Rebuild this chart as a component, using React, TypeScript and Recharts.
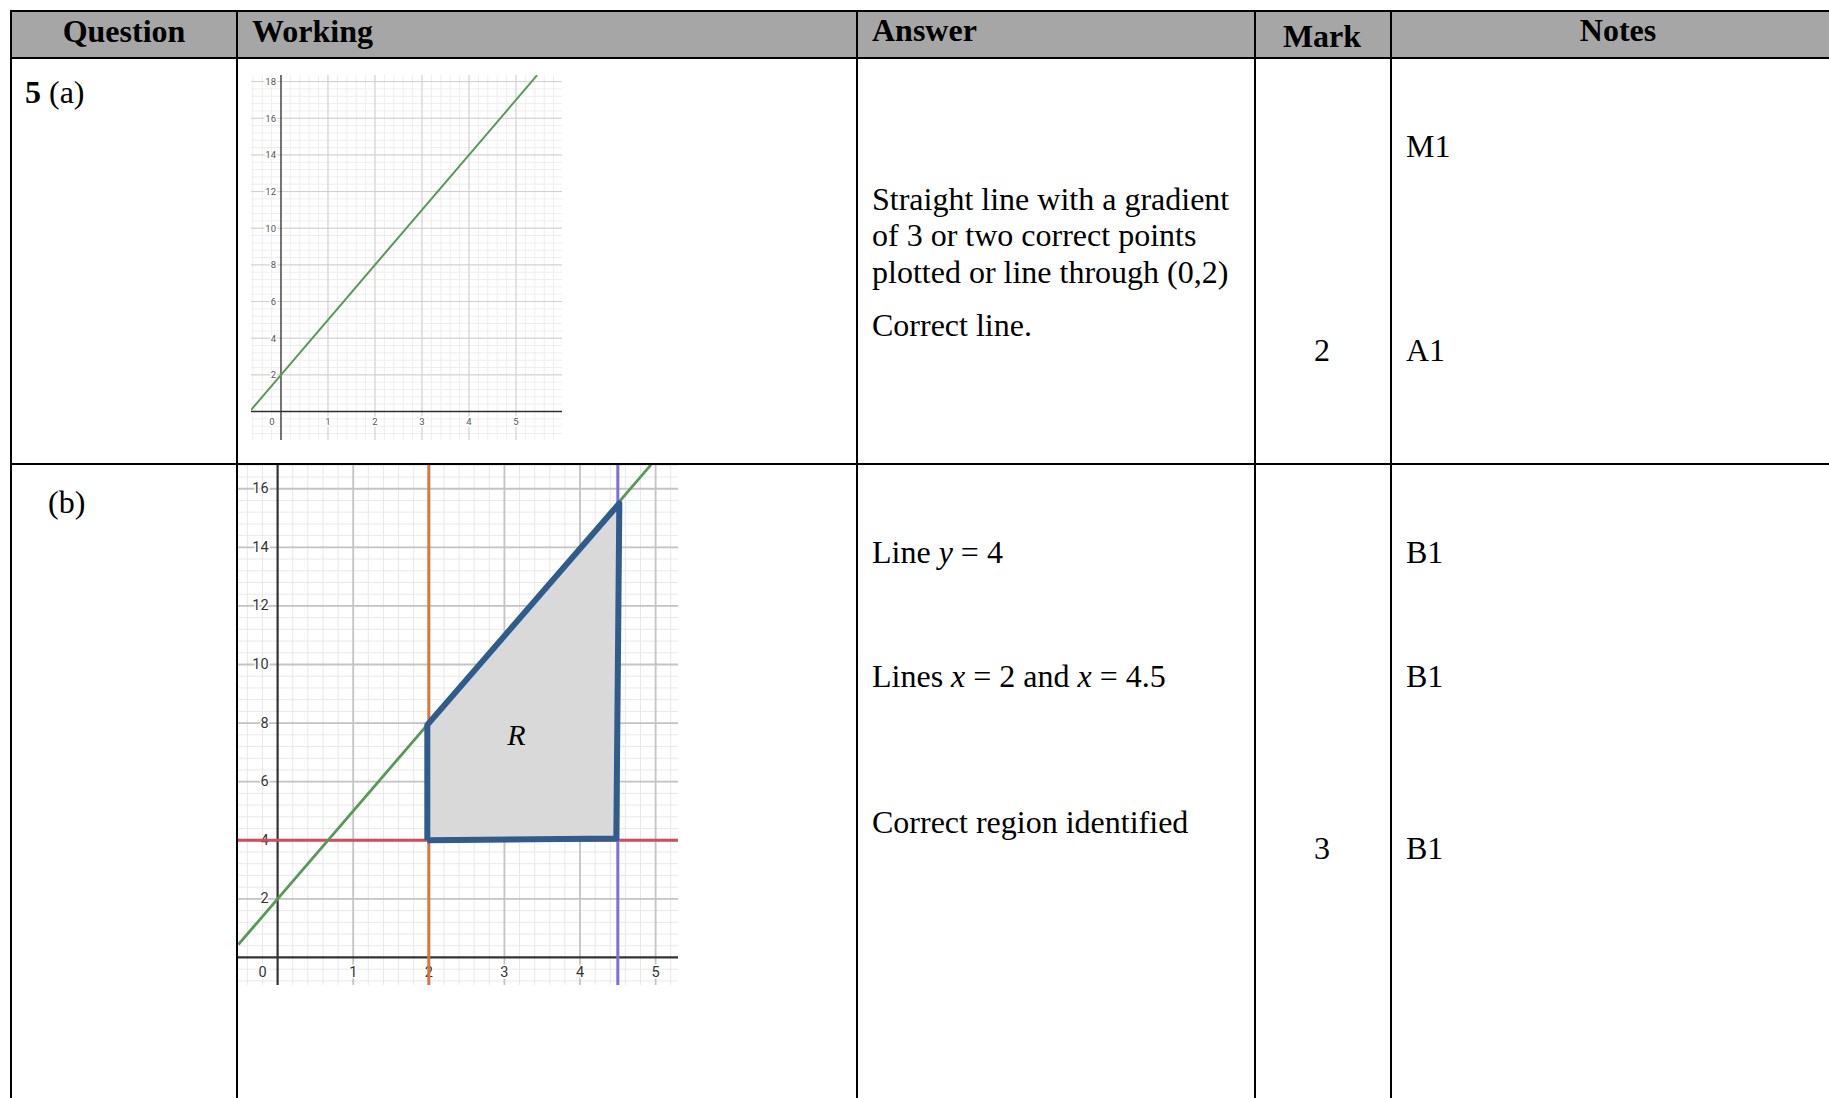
import React from 'react';
import { ComposedChart, Line, Area, XAxis, YAxis, ReferenceLine, ReferenceDot } from 'recharts';

// ---- part (a): y = 3x + 2 ----
const aXTicks = [0, 1, 2, 3, 4, 5];
const aYTicks = [2, 4, 6, 8, 10, 12, 14, 16, 18];
const aLine = [
  { x: -0.64, y: 0.08 },
  { x: 5.45, y: 18.35 },
];

// ---- part (b): region R ----
const bXTicks = [0, 1, 2, 3, 4, 5];
const bYTicks = [2, 4, 6, 8, 10, 12, 14, 16];
const bLine = [
  { x: -0.52, y: 0.44 },
  { x: 4.94, y: 16.82 },
];
const bHorizontal = 4;
const bLeftBound = 2;
const bRightBound = 4.5;
const regionOutline = [
  { x: 1.98, y: 4.0 },
  { x: 1.98, y: 7.94 },
  { x: 4.52, y: 15.5 },
  { x: 4.48, y: 4.06 },
  { x: 1.98, y: 4.0 },
];
const regionFill = [
  { x: 1.98, range: [4.0, 7.94] },
  { x: 4.5, range: [4.05, 15.5] },
];
const regionLabel = { x: 3.16, y: 7.6, text: 'R' };

// ---- table text ----
const headers = [
  { text: 'Question', x: 124, base: 42, center: true },
  { text: 'Working', x: 252, base: 42 },
  { text: 'Answer', x: 872, base: 41 },
  { text: 'Mark', x: 1322, base: 47, center: true },
  { text: 'Notes', x: 1618, base: 41, center: true },
];
const answerA = ['Straight line with a gradient', 'of 3 or two correct points', 'plotted or line through (0,2)'];
const answerABase = [210, 246, 283];

const SERIF = '"Liberation Serif", "Times New Roman", serif';
const SANS = 'Roboto, "DejaVu Sans", sans-serif';

// grid positions between two values at a fixed step (grid only, not data)
const steps = (from: number, to: number, step: number) => {
  const out: number[] = [];
  for (let v = from; v <= to + 1e-9; v += step) out.push(Math.round(v * 100) / 100);
  return out;
};

const Txt = ({ x, base, center, bold, children }: any) => (
  <div
    style={{
      position: 'absolute',
      left: center ? x - 200 : x,
      width: center ? 400 : undefined,
      textAlign: center ? 'center' : 'left',
      top: base - 27,
      fontSize: 32,
      lineHeight: '32px',
      fontFamily: SERIF,
      fontWeight: bold ? 700 : 400,
      whiteSpace: 'nowrap',
      color: '#000',
    }}
  >
    {children}
  </div>
);

const tickLabel = (text: string, dx: number, dy: number, anchor: string, size: number, color: string) =>
  (p: any) => (
    <text
      x={p.cx + dx}
      y={p.cy + dy}
      textAnchor={anchor}
      dominantBaseline="central"
      fontSize={size}
      fill={color}
      fontFamily={SANS}
      stroke="#fff"
      strokeWidth={3}
      paintOrder="stroke"
    >
      {text}
    </text>
  );

const Grid = ({ xMinor, yMinor, xMajor, yMajor, minor, major, majorWidth }: any) => (
  <>
    {xMinor.map((v: number) => (
      <ReferenceLine key={`xm${v}`} x={v} stroke={minor} strokeWidth={1} zIndex={10} />
    ))}
    {yMinor.map((v: number) => (
      <ReferenceLine key={`ym${v}`} y={v} stroke={minor} strokeWidth={1} zIndex={10} />
    ))}
    {xMajor.map((v: number) => (
      <ReferenceLine key={`xM${v}`} x={v} stroke={major} strokeWidth={majorWidth} zIndex={20} />
    ))}
    {yMajor.map((v: number) => (
      <ReferenceLine key={`yM${v}`} y={v} stroke={major} strokeWidth={majorWidth} zIndex={20} />
    ))}
  </>
);

const ChartA = () => (
  <ComposedChart width={311} height={365} margin={{ top: 0, right: 0, bottom: 0, left: 0 }}>
    <XAxis type="number" dataKey="x" domain={[-0.638, 5.979]} allowDataOverflow hide />
    <YAxis type="number" dataKey="y" domain={[-1.555, 18.36]} allowDataOverflow hide />
    {Grid({
      xMinor: steps(-0.6, 5.8, 0.2),
      yMinor: steps(-1.2, 18.0, 0.4),
      xMajor: aXTicks.filter((v) => v !== 0),
      yMajor: aYTicks,
      minor: '#eeeeee',
      major: '#cfcfcf',
      majorWidth: 1,
    })}
    <ReferenceLine x={0} stroke="#2e2e2e" strokeWidth={1.3} zIndex={30} />
    <ReferenceLine y={0} stroke="#2e2e2e" strokeWidth={1.3} zIndex={30} />
    {aYTicks.map((v) => (
      <ReferenceDot key={`ay${v}`} x={0} y={v} r={0} zIndex={35} shape={tickLabel(String(v), -5, 0, 'end', 9.5, '#555')} />
    ))}
    {aXTicks.map((v) => (
      <ReferenceDot
        key={`ax${v}`}
        x={v}
        y={0}
        r={0}
        zIndex={35}
        shape={tickLabel(String(v), v === 0 ? -9 : 0, 10, 'middle', 9.5, '#555')}
      />
    ))}
    <Line
      data={aLine}
      dataKey="y"
      type="linear"
      stroke="#579957"
      strokeWidth={2}
      dot={false}
      activeDot={false}
      isAnimationActive={false}
      zIndex={70}
    />
  </ComposedChart>
);

const ChartB = () => (
  <ComposedChart width={440} height={520} margin={{ top: 0, right: 0, bottom: 0, left: 0 }}>
    <XAxis type="number" dataKey="x" domain={[-0.524, 5.296]} allowDataOverflow hide />
    <YAxis type="number" dataKey="y" domain={[-0.94, 16.81]} allowDataOverflow hide />
    {Grid({
      xMinor: steps(-0.4, 5.2, 0.2),
      yMinor: steps(-0.8, 16.8, 0.4),
      xMajor: bXTicks.filter((v) => v !== 0),
      yMajor: bYTicks,
      minor: '#e8e8e8',
      major: '#c4c4c4',
      majorWidth: 1.8,
    })}
    <ReferenceLine x={0} stroke="#333" strokeWidth={2.2} zIndex={30} />
    <ReferenceLine y={0} stroke="#333" strokeWidth={2.2} zIndex={30} />
    {bYTicks.map((v) => (
      <ReferenceDot key={`by${v}`} x={0} y={v} r={0} zIndex={35} shape={tickLabel(String(v), -9, 0, 'end', 14.5, '#333')} />
    ))}
    {bXTicks.map((v) => (
      <ReferenceDot
        key={`bx${v}`}
        x={v}
        y={0}
        r={0}
        zIndex={35}
        shape={tickLabel(String(v), v === 0 ? -15 : 0, 15, 'middle', 14.5, '#333')}
      />
    ))}
    <ReferenceLine y={bHorizontal} stroke="#da4a56" strokeWidth={3} zIndex={40} />
    <ReferenceLine x={bLeftBound} stroke="#d9773a" strokeWidth={3} zIndex={50} />
    <ReferenceLine x={bRightBound} stroke="#7f6ce0" strokeWidth={3} zIndex={60} />
    <Line
      data={bLine}
      dataKey="y"
      type="linear"
      stroke="#579957"
      strokeWidth={2.8}
      dot={false}
      activeDot={false}
      isAnimationActive={false}
      zIndex={70}
    />
    <Area
      data={regionFill}
      dataKey="range"
      type="linear"
      fill="#d9d9d9"
      fillOpacity={1}
      stroke="none"
      dot={false}
      activeDot={false}
      isAnimationActive={false}
      zIndex={80}
    />
    <Line
      data={regionOutline}
      dataKey="y"
      type="linear"
      stroke="#305b8d"
      strokeWidth={6}
      strokeLinejoin="round"
      dot={false}
      activeDot={false}
      isAnimationActive={false}
      zIndex={90}
    />
    <ReferenceDot
      x={regionLabel.x}
      y={regionLabel.y}
      r={0}
      zIndex={100}
      shape={(p: any) => (
        <text
          x={p.cx}
          y={p.cy}
          textAnchor="middle"
          dominantBaseline="central"
          fontSize={30}
          fontStyle="italic"
          fontFamily={SERIF}
          fill="#000"
        >
          {regionLabel.text}
        </text>
      )}
    />
  </ComposedChart>
);

const hLine = (top: number, left = 10) => (
  <div key={`h${top}`} style={{ position: 'absolute', left, top, width: 1829 - left, height: 2, background: '#000' }} />
);
const vLine = (left: number, top = 10) => (
  <div key={`v${left}`} style={{ position: 'absolute', left, top, width: 2, height: 1098 - top, background: '#000' }} />
);

export default function App() {
  return (
    <div
      style={{
        position: 'absolute',
        left: 0,
        top: 0,
        width: 1829,
        height: 1098,
        overflow: 'hidden',
        background: '#fff',
      }}
    >
      <div style={{ position: 'absolute', left: 12, top: 12, width: 1817, height: 45, background: '#a6a6a6' }} />
      {hLine(10)}
      {hLine(57)}
      {hLine(463)}
      {vLine(10)}
      {vLine(236)}
      {vLine(856)}
      {vLine(1254)}
      {vLine(1390)}

      {headers.map((h) => (
        <Txt key={h.text} x={h.x} base={h.base} center={h.center} bold>
          {h.text}
        </Txt>
      ))}

      {/* row (a) */}
      <Txt x={25} base={103}>
        <b>5</b> (a)
      </Txt>
      <div style={{ position: 'absolute', left: 251, top: 75 }}>
        <ChartA />
      </div>
      {answerA.map((t, i) => (
        <Txt key={t} x={872} base={answerABase[i]}>
          {t}
        </Txt>
      ))}
      <Txt x={872} base={336}>Correct line.</Txt>
      <Txt x={1322} base={361} center>2</Txt>
      <Txt x={1406} base={157}>M1</Txt>
      <Txt x={1406} base={361}>A1</Txt>

      {/* row (b) */}
      <Txt x={48} base={513}>(b)</Txt>
      <div style={{ position: 'absolute', left: 238, top: 465 }}>
        <ChartB />
      </div>
      <Txt x={872} base={563}>
        Line <i>y</i> = 4
      </Txt>
      <Txt x={872} base={687}>
        Lines <i>x</i> = 2 and <i>x</i> = 4.5
      </Txt>
      <Txt x={872} base={833}>Correct region identified</Txt>
      <Txt x={1322} base={859} center>3</Txt>
      <Txt x={1406} base={563}>B1</Txt>
      <Txt x={1406} base={687}>B1</Txt>
      <Txt x={1406} base={859}>B1</Txt>
    </div>
  );
}
